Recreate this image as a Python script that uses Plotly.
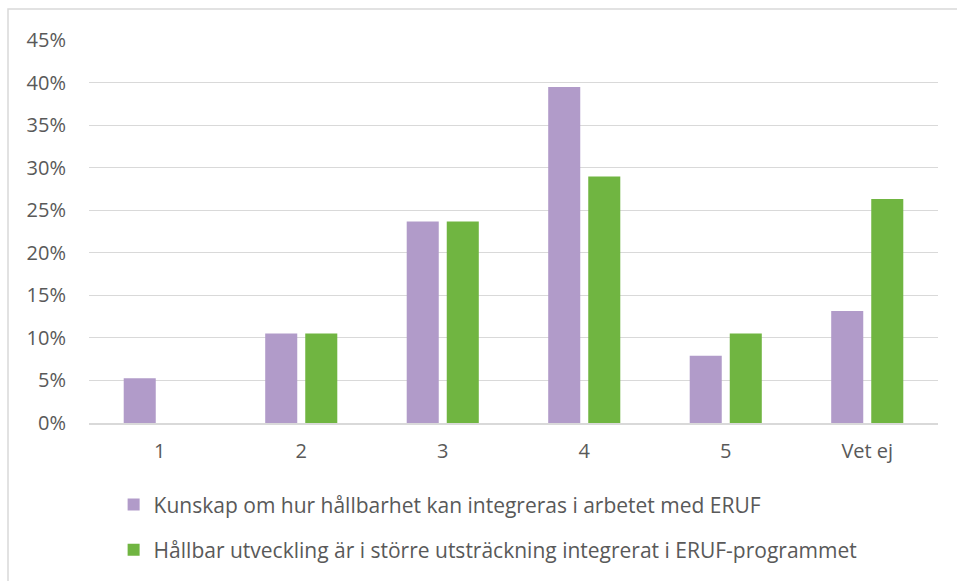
import plotly.graph_objects as go

categories = ["1", "2", "3", "4", "5", "Vet ej"]
series1_name = "Kunskap om hur hållbarhet kan integreras i arbetet med ERUF"
series1_values = [0.0526, 0.1053, 0.2368, 0.3947, 0.0789, 0.1316]
series2_name = "Hållbar utveckling är i större utsträckning integrerat i ERUF-programmet"
series2_values = [0.0, 0.1053, 0.2368, 0.2895, 0.1053, 0.2632]
y_ticks = [0, 0.05, 0.10, 0.15, 0.20, 0.25, 0.30, 0.35, 0.40, 0.45]
y_tick_labels = ["0%", "5%", "10%", "15%", "20%", "25%", "30%", "35%", "40%", "45%"]

FONT = "Open Sans"
TXT = "#595959"

fig = go.Figure()
fig.add_trace(go.Bar(x=categories, y=series1_values, name=series1_name,
                     marker=dict(color="#B19BC9", line=dict(width=0)), legend="legend",
                     showlegend=True))
fig.add_trace(go.Bar(x=categories, y=series2_values, name=series2_name,
                     marker=dict(color="#70B541", line=dict(width=0)), legend="legend2",
                     showlegend=True))

fig.update_layout(
    width=957, height=581,
    margin=dict(l=89, r=19, t=40, b=158, autoexpand=False),
    paper_bgcolor="white", plot_bgcolor="white",
    showlegend=True,
    barmode="group", bargap=0.434, bargroupgap=0.2,
    font=dict(family=FONT, color=TXT, size=20),
    legend=dict(x=0.029, y=-0.214, xanchor="left", yanchor="middle",
                font=dict(family=FONT, size=21, color=TXT), bgcolor="rgba(0,0,0,0)",
                itemwidth=30),
    legend2=dict(x=0.029, y=-0.332, xanchor="left", yanchor="middle",
                 font=dict(family=FONT, size=21, color=TXT), bgcolor="rgba(0,0,0,0)",
                 itemwidth=30),
    xaxis=dict(showgrid=False, showline=True, linecolor="#D9D9D9", linewidth=1.5,
               ticks="", tickfont=dict(size=20, color=TXT), ticklabelstandoff=9),
    yaxis=dict(range=[0, 0.45], tickvals=y_ticks, ticktext=y_tick_labels,
               showgrid=True, gridcolor="#D9D9D9", gridwidth=1.2, zeroline=False,
               showline=False, ticks="", tickfont=dict(size=20, color=TXT), ticklabelstandoff=22),
    shapes=[dict(type="rect", xref="paper", yref="paper",
                 x0=(8 - 89) / 849, x1=1.1, y0=(423 - 590) / 383, y1=(423 - 9) / 383,
                 line=dict(color="#D9D9D9", width=1.5), fillcolor="rgba(0,0,0,0)", layer="below")],
)

fig.write_html("out.html")
